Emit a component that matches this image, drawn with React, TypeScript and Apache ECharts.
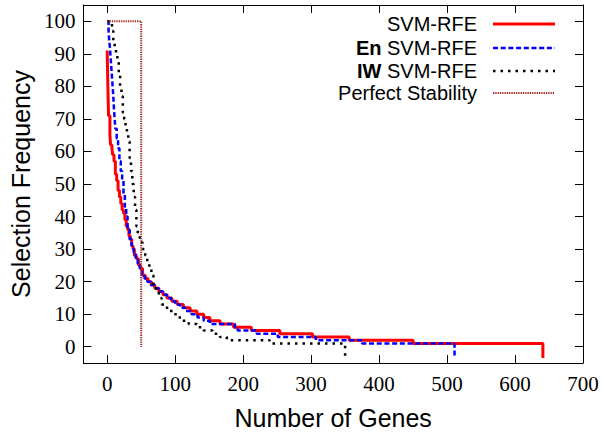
import React, { useEffect, useRef } from "react";
import * as echarts from "echarts";

// SVM-RFE (step breakpoints: gene index -> frequency held until next index)
const redGenes = [0, 1, 2, 4, 5, 7, 8, 10, 12, 14, 16, 18, 20, 22, 24, 26, 28, 30, 32, 34, 36, 38, 40, 43, 46, 49, 52, 56, 60, 65, 70, 76, 82, 88, 95, 103, 112, 122, 132, 142, 151, 166, 186, 212, 254, 302, 356, 450, 641];
const redFreq = [91, 80, 71, 65, 62, 61, 59, 57, 53, 51, 48, 46, 44, 42, 41, 39, 37, 36, 34, 33, 31, 30, 28, 27, 25, 24, 22, 21, 20, 19, 18, 17, 16, 15, 14, 13, 12, 11, 10, 9, 8, 7, 6, 5, 4, 3, 2, 1, -3.5];

// En SVM-RFE
const blueGenes = [0, 2, 3, 4, 5, 6, 7, 8, 9, 10, 11, 12, 14, 16, 18, 20, 22, 24, 26, 28, 30, 33, 36, 39, 42, 45, 48, 51, 55, 59, 64, 70, 76, 82, 88, 94, 100, 107, 115, 124, 133, 142, 151, 188, 192, 220, 251, 307, 375, 511];
const blueFreq = [100, 97, 94, 92, 89, 86, 83, 80, 77, 73, 70, 67, 64, 61, 57, 54, 51, 47, 43, 40, 36, 33, 31, 29, 27, 25, 24, 22, 21, 20, 19, 18, 17, 16, 15, 14, 13, 12, 11, 10, 9, 8, 7, 6, 5, 4, 3, 2, 1, -3.5];

// IW SVM-RFE
const blackGenes = [0, 7, 9, 11, 13, 15, 17, 19, 21, 23, 25, 27, 29, 31, 33, 35, 37, 39, 41, 43, 45, 48, 52, 56, 59, 62, 65, 68, 72, 76, 80, 86, 92, 98, 104, 110, 120, 132, 142, 155, 166, 176, 239, 350];
const blackFreq = [100, 97, 94, 92, 90, 88, 84, 80, 77, 72, 70, 67, 65, 63, 58, 54, 50, 46, 42, 37, 34, 32, 30, 28, 26, 24, 22, 19, 17, 15, 13, 12, 11, 10, 9, 8, 7, 6, 5, 4, 3, 2, 1, -3.5];

// Perfect Stability
const perfectGenes = [0, 50, 50];
const perfectFreq = [100, 100, 0];

const xTicks = [0, 100, 200, 300, 400, 500, 600, 700];
const yTicks = [0, 10, 20, 30, 40, 50, 60, 70, 80, 90, 100];

const zip = (xs: number[], ys: number[]) => xs.map((x, i) => [x, ys[i]]);

const SANS = "'Liberation Sans', Arial, sans-serif";
const SERIF = "'Liberation Serif', 'Times New Roman', serif";

export default function App() {
  const ref = useRef<HTMLDivElement>(null);
  useEffect(() => {
    document.body.style.margin = "0";
    const chart = echarts.init(ref.current!, undefined, { renderer: "svg" });
    const axisCommon = {
      type: "value" as const,
      splitLine: { show: false },
      axisLine: { show: true, onZero: false, lineStyle: { color: "#000", width: 1 } },
      axisTick: { show: true, inside: true, length: 8, lineStyle: { color: "#000", width: 1 } },
    };
    const legendRows = [
      { y: 24, text: "SVM-RFE", stroke: "#ff0000", width: 3, dash: null as any },
      { y: 48, text: "{b|En} SVM-RFE", stroke: "#0000ff", width: 2.5, dash: [5, 2.7] },
      { y: 71, text: "{b|IW} SVM-RFE", stroke: "#000000", width: 2.5, dash: [2.5, 5] },
      { y: 93, text: "Perfect Stability", stroke: "#a52a2a", width: 2, dash: [1.3, 1] },
    ];
    const graphic: any[] = [];
    legendRows.forEach((r) => {
      graphic.push({
        type: "text",
        x: 477,
        y: r.y,
        style: {
          text: r.text,
          fontSize: 20,
          fontFamily: SANS,
          fill: "#000",
          align: "right",
          verticalAlign: "middle",
          rich: { b: { fontSize: 20, fontFamily: SANS, fontWeight: "bold", fill: "#000" } },
        },
      });
      graphic.push({
        type: "line",
        shape: { x1: 493, y1: r.y, x2: 555, y2: r.y },
        style: { stroke: r.stroke, lineWidth: r.width, lineDash: r.dash || undefined },
      });
    });
    chart.setOption({
      animation: false,
      grid: { left: 78, right: 21, top: 5, bottom: 72, containLabel: false },
      xAxis: [
        {
          ...axisCommon,
          position: "bottom",
          min: -35,
          max: 700,
          name: "Number of Genes",
          nameLocation: "middle",
          nameGap: 42,
          nameTextStyle: { fontSize: 25, fontFamily: SANS, color: "#000" },
          axisTick: { ...axisCommon.axisTick, customValues: xTicks },
          axisLabel: { customValues: xTicks, fontSize: 21, fontFamily: SERIF, color: "#000", margin: 10 },
        },
        {
          ...axisCommon,
          position: "top",
          min: -35,
          max: 700,
          axisTick: { ...axisCommon.axisTick, customValues: xTicks },
          axisLabel: { show: false },
        },
      ],
      yAxis: [
        {
          ...axisCommon,
          position: "left",
          min: -5,
          max: 105,
          name: "Selection Frequency",
          nameLocation: "middle",
          nameGap: 40,
          nameTextStyle: { fontSize: 25, fontFamily: SANS, color: "#000" },
          axisTick: { ...axisCommon.axisTick, customValues: yTicks },
          axisLabel: { customValues: yTicks, fontSize: 21, fontFamily: SERIF, color: "#000", margin: 8 },
        },
        {
          ...axisCommon,
          position: "right",
          min: -5,
          max: 105,
          axisTick: { ...axisCommon.axisTick, customValues: yTicks },
          axisLabel: { show: false },
        },
      ],
      series: [
        {
          name: "SVM-RFE",
          type: "line",
          step: "end",
          showSymbol: false,
          data: zip(redGenes, redFreq),
          lineStyle: { color: "#ff0000", width: 3 },
        },
        {
          name: "En SVM-RFE",
          type: "line",
          step: "end",
          showSymbol: false,
          data: zip(blueGenes, blueFreq),
          lineStyle: { color: "#0000ff", width: 2.5, type: [5, 2.7] },
        },
        {
          name: "IW SVM-RFE",
          type: "line",
          step: "end",
          showSymbol: false,
          data: zip(blackGenes, blackFreq),
          lineStyle: { color: "#000000", width: 2.5, type: [2.5, 5] },
        },
        {
          name: "Perfect Stability",
          type: "line",
          showSymbol: false,
          data: zip(perfectGenes, perfectFreq),
          lineStyle: { color: "#a52a2a", width: 2, type: [1.3, 1] },
        },
      ],
      graphic,
    });
    return () => chart.dispose();
  }, []);
  return <div ref={ref} style={{ width: 604, height: 435 }} />;
}
